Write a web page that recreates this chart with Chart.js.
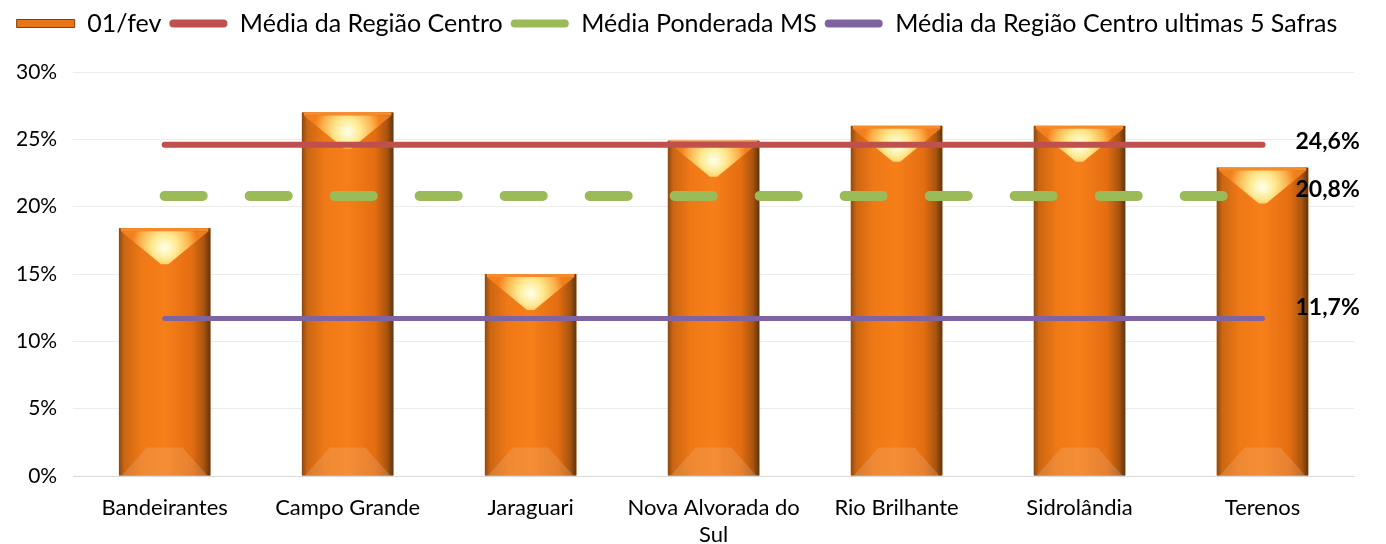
<!DOCTYPE html>
<html lang="pt">
<head>
    <meta charset="UTF-8">
    <title>01/fev</title>
    <script src="https://cdn.jsdelivr.net/npm/chart.js"></script>
    <style>
        body { margin: 0; background: #fff; }
        .wrap { width: 1386px; height: 544px; }
    </style>
</head>
<body>
    <div class="wrap">
        <canvas id="chart"></canvas>
    </div>
    <script>
// categories and values
const municipios = ['Bandeirantes', 'Campo Grande', 'Jaraguari', ['Nova Alvorada do', 'Sul'], 'Rio Brilhante', 'Sidrolândia', 'Terenos'];
const fev01 = [18.4, 27.0, 15.0, 24.9, 26.0, 26.0, 22.9];
const mediaRegiao = [24.6, 24.6, 24.6, 24.6, 24.6, 24.6, 24.6];
const mediaPonderadaMS = [20.8, 20.8, 20.8, 20.8, 20.8, 20.8, 20.8];
const mediaUltimas5 = [11.7, 11.7, 11.7, 11.7, 11.7, 11.7, 11.7];
const yTicks = [0, 5, 10, 15, 20, 25, 30];

const FONT = 'Lato, "Open Sans", sans-serif';

// paints the bevelled look over each bar
const barLook = {
    id: 'barLook',
    afterDatasetDraw(chart, args) {
        if (args.index !== 0) return;
        const ctx = chart.ctx;
        args.meta.data.forEach(el => {
            const p = el.getProps(['x', 'y', 'base', 'width'], true);
            const x0 = p.x - p.width / 2, x1 = p.x + p.width / 2;
            const top = p.y, bot = p.base, w = p.width;
            ctx.save();
            const g = ctx.createLinearGradient(x0, 0, x1, 0);
            g.addColorStop(0, '#8a4a14');
            g.addColorStop(0.06, '#cc6612');
            g.addColorStop(0.25, '#ef7916');
            g.addColorStop(0.5, '#f77f1a');
            g.addColorStop(0.8, '#e36d11');
            g.addColorStop(0.93, '#a9540f');
            g.addColorStop(1, '#5e3410');
            ctx.fillStyle = g;
            ctx.fillRect(x0, top, w, bot - top);

            // top cap
            ctx.fillStyle = '#f58c2c';
            ctx.fillRect(x0 + 2, top, w - 4, 3);
            const h = 36;
            const rg = ctx.createRadialGradient(p.x, top + 20, 2, p.x, top + 16, w * 0.36);
            rg.addColorStop(0, '#fffde0');
            rg.addColorStop(0.35, '#ffe98f');
            rg.addColorStop(0.75, '#fbb04a');
            rg.addColorStop(1, 'rgba(245,130,30,0.9)');
            ctx.fillStyle = rg;
            ctx.beginPath();
            ctx.moveTo(x0 + 2, top + 3);
            ctx.lineTo(x1 - 2, top + 3);
            ctx.lineTo(p.x + w * 0.04, top + h);
            ctx.lineTo(p.x - w * 0.04, top + h);
            ctx.closePath();
            ctx.fill();

            // bottom bevel
            ctx.fillStyle = 'rgba(240,175,120,0.3)';
            ctx.beginPath();
            ctx.moveTo(x0 + 3, bot);
            ctx.lineTo(x1 - 3, bot);
            ctx.lineTo(x1 - 28, bot - 28);
            ctx.lineTo(x0 + 28, bot - 28);
            ctx.closePath();
            ctx.fill();
            ctx.restore();
        });
    }
};

// values written to the right of the reference lines
const endLabels = {
    id: 'endLabels',
    afterDatasetsDraw(chart) {
        const ctx = chart.ctx;
        const shifts = { 1: -3, 2: -6, 3: -11 };
        ctx.save();
        ctx.font = 'bold 23px ' + FONT;
        ctx.fillStyle = '#000';
        ctx.textBaseline = 'middle';
        [1, 2, 3].forEach(i => {
            const meta = chart.getDatasetMeta(i);
            const last = meta.data[meta.data.length - 1];
            const v = chart.data.datasets[i].data[meta.data.length - 1];
            ctx.fillText(v.toFixed(1).replace('.', ',') + '%', last.x + 33, last.y + shifts[i]);
        });
        ctx.restore();
    }
};

// extra room under the legend
const legendGap = {
    id: 'legendGap',
    beforeInit(chart) {
        const fit = chart.legend.fit;
        chart.legend.fit = function () {
            fit.call(this);
            this.height += 26;
        };
    }
};

new Chart(document.getElementById('chart'), {
    data: {
        labels: municipios,
        datasets: [
            {
                type: 'bar',
                label: '01/fev',
                data: fev01,
                backgroundColor: '#f07a14',
                barPercentage: 0.5,
                categoryPercentage: 1,
                order: 10
            },
            {
                type: 'line',
                label: 'Média da Região Centro',
                data: mediaRegiao,
                borderColor: '#c0504d',
                backgroundColor: '#c0504d',
                borderWidth: 6,
                borderCapStyle: 'round',
                pointRadius: 0,
                order: 1
            },
            {
                type: 'line',
                label: 'Média Ponderada MS',
                data: mediaPonderadaMS,
                borderColor: '#9bbb59',
                backgroundColor: '#9bbb59',
                borderWidth: 10,
                borderCapStyle: 'round',
                borderDash: [38, 47],
                pointRadius: 0,
                order: 2
            },
            {
                type: 'line',
                label: 'Média da Região Centro ultimas 5 Safras',
                data: mediaUltimas5,
                borderColor: '#8064a2',
                backgroundColor: '#8064a2',
                borderWidth: 5,
                borderCapStyle: 'round',
                pointRadius: 0,
                order: 3
            }
        ]
    },
    options: {
        responsive: true,
        maintainAspectRatio: false,
        animation: false,
        layout: { padding: { left: 0, right: 32, top: 3, bottom: 0 } },
        plugins: {
            tooltip: { enabled: false },
            legend: {
                position: 'top',
                labels: {
                    sort: (a, b) => a.datasetIndex - b.datasetIndex,
                    color: '#000',
                    font: { family: FONT, size: 25 },
                    boxWidth: 58,
                    boxHeight: 8,
                    padding: 8,
                    generateLabels(chart) {
                        return chart.data.datasets.map((ds, i) => ({
                            text: ds.label,
                            fillStyle: i === 0 ? '#e8751a' : ds.borderColor,
                            strokeStyle: i === 0 ? '#7a4212' : ds.borderColor,
                            lineWidth: i === 0 ? 1 : 0,
                            borderRadius: i === 0 ? 0 : 4,
                            fontColor: '#000',
                            datasetIndex: i,
                            hidden: false
                        }));
                    }
                }
            }
        },
        scales: {
            x: {
                grid: { display: false },
                border: { color: '#d9d9d9', width: 1 },
                ticks: { color: '#000', font: { family: FONT, size: 22, lineHeight: 1.25 }, padding: 10, maxRotation: 0 },
                afterFit(scale) { scale.height = 68; }
            },
            y: {
                min: 0,
                max: 30,
                afterBuildTicks(axis) { axis.ticks = yTicks.map(v => ({ value: v })); },
                grid: { color: '#ececec', drawTicks: false },
                border: { display: false },
                ticks: {
                    color: '#000',
                    font: { family: FONT, size: 21 },
                    padding: 16,
                    callback: v => v + '%'
                }
            }
        }
    },
    plugins: [barLook, endLabels, legendGap]
});
    </script>
</body>
</html>
